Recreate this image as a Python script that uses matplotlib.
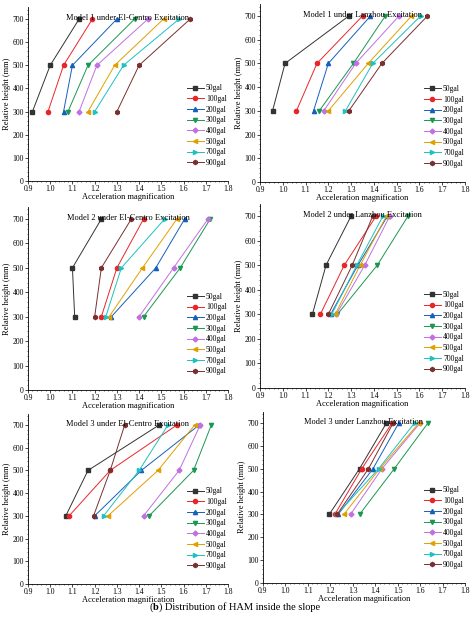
import matplotlib
matplotlib.use("Agg")
import matplotlib.pyplot as plt

plt.rcParams['font.family'] = ['Liberation Serif', 'DejaVu Serif']

heights = [300, 500, 700]
series = ['50gal', '100gal', '200gal', '300gal', '400gal', '500gal', '700gal', '900gal']
titles = ['Model 1 under El-Centro Excitation', 'Model 1 under Lanzhou Excitation',
          'Model 2 under El-Centro Excitation', 'Model 2 under Lanzhou Excitation',
          'Model 3 under El-Centro Excitation', 'Model 3 under Lanzhou Excitation']

m1_elcentro = [[0.92, 1.00, 1.13], [0.99, 1.06, 1.19], [1.06, 1.10, 1.30], [1.08, 1.17, 1.38],
               [1.13, 1.21, 1.44], [1.17, 1.29, 1.51], [1.20, 1.33, 1.58], [1.30, 1.40, 1.63]]
m1_lanzhou = [[0.955, 1.01, 1.29], [1.06, 1.15, 1.35], [1.135, 1.20, 1.385], [1.16, 1.31, 1.45],
              [1.18, 1.32, 1.51], [1.20, 1.375, 1.565], [1.275, 1.395, 1.605], [1.29, 1.435, 1.635]]
m2_elcentro = [[1.11, 1.10, 1.23], [1.23, 1.30, 1.42], [1.275, 1.475, 1.605], [1.42, 1.585, 1.72],
               [1.40, 1.555, 1.71], [1.265, 1.415, 1.57], [1.25, 1.32, 1.515], [1.20, 1.23, 1.365]]
m2_lanzhou = [[1.13, 1.19, 1.30], [1.165, 1.27, 1.41], [1.21, 1.33, 1.46], [1.24, 1.415, 1.55],
              [1.235, 1.36, 1.47], [1.23, 1.34, 1.455], [1.215, 1.325, 1.44], [1.20, 1.305, 1.395]]
m3_elcentro = [[1.07, 1.17, 1.49], [1.085, 1.27, 1.57], [1.20, 1.41, 1.67], [1.445, 1.645, 1.725],
               [1.42, 1.58, 1.675], [1.26, 1.485, 1.65], [1.24, 1.40, 1.53], [1.195, 1.27, 1.335]]
m3_lanzhou = [[1.195, 1.33, 1.45], [1.22, 1.34, 1.475], [1.235, 1.39, 1.505], [1.33, 1.485, 1.635],
              [1.29, 1.43, 1.60], [1.26, 1.42, 1.595], [1.23, 1.415, 1.575], [1.23, 1.37, 1.48]]
panels = [m1_elcentro, m1_lanzhou, m2_elcentro, m2_lanzhou, m3_elcentro, m3_lanzhou]

colors = ['#333333', '#e8262a', '#1560bd', '#1a9850', '#c070e0', '#e0a000', '#20c0c0', '#7a3030']
markers = ['s', 'o', '^', 'v', 'D', '<', '>', 'h']

W, H = 474, 622
fig = plt.figure(figsize=(W/100, H/100), dpi=100)
boxes = [(28, 228, 19, 181), (260, 465, 16, 182),
         (28, 228, 219, 390), (260, 465, 216, 388),
         (28, 228, 425, 584), (263, 465, 423, 583)]
for i, (data, title, (l, r, t, b)) in enumerate(zip(panels, titles, boxes)):
    ppu = (b - t) / 700.0
    top = t - 50 * ppu
    ax = fig.add_axes([l/W, 1 - b/H, (r - l)/W, (b - top)/H])
    for s, c, m, vals in zip(series, colors, markers, data):
        ms = 3 if m != 'D' else 2.5
        ax.plot(vals, heights, color=c, marker=m, markersize=ms, lw=0.7, label=s)
    ax.set_xlim(0.9, 1.8)
    ax.set_ylim(0, 750)
    ax.set_xticks([0.9 + 0.1*k for k in range(10)])
    ax.set_xticklabels(['%.1f' % (0.9 + 0.1*k) for k in range(10)])
    ax.set_yticks(range(0, 701, 100))
    ax.tick_params(labelsize=5.5, length=2, width=0.5, pad=1)
    ax.minorticks_on()
    ax.tick_params(which='minor', length=1, width=0.4)
    for side in ['top', 'right']:
        ax.spines[side].set_visible(False)
    for side in ['left', 'bottom']:
        ax.spines[side].set_linewidth(0.6)
    ax.set_xlabel('Acceleration magnification', fontsize=6, labelpad=0)
    ax.set_ylabel('Relative height (mm)', fontsize=6, labelpad=1)
    ax.set_title(title, fontsize=6, y=0.93, pad=0)
    ax.legend(loc='lower right', bbox_to_anchor=(1.02, 0.05), fontsize=5.5, frameon=False,
              handlelength=2.2, labelspacing=0.35, borderpad=0.2, handletextpad=0.3)

fig.text(0.5, 1 - 607/H, '(b) Distribution of HAM inside the slope', color='none',
         ha='center', va='center', fontsize=7.5)
cap1 = fig.text(0.5 - 0.185, 1 - 607/H, '(', ha='left', va='center', fontsize=7.5)
fig.text(0.5 - 0.185 + 0.008, 1 - 607/H, 'b', ha='left', va='center', fontsize=7.5, weight='bold')
fig.text(0.5 - 0.185 + 0.021, 1 - 607/H, ') Distribution of HAM inside the slope',
         ha='left', va='center', fontsize=7.5)
fig.savefig('out.png', dpi=100)
